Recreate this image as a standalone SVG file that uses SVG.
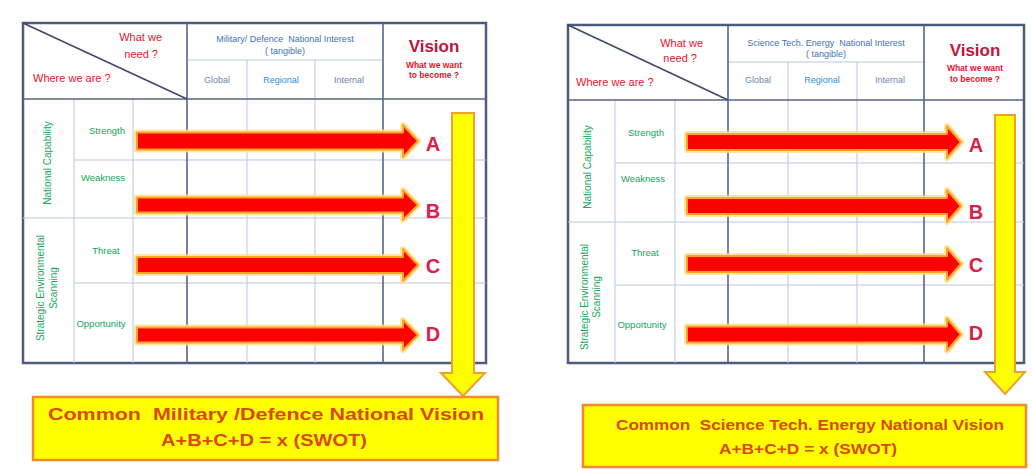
<svg xmlns="http://www.w3.org/2000/svg" width="1032" height="470" viewBox="0 0 1032 470">
<style>
text{font-family:"Liberation Sans",Arial,sans-serif}
.outer{fill:#ffffff;stroke:#4D5B7C;stroke-width:2.5}
.major{stroke:#55658A;stroke-width:1.6;fill:none}
.minor{stroke:#B7C7E2;stroke-width:1;fill:none}
.diag{stroke:#3D4A6A;stroke-width:1.6}
.red{fill:#E8102E;font-size:11px}
.vis{fill:#C0143C;font-size:17px;font-weight:bold}
.vsub{fill:#E8102E;font-size:8.5px;font-weight:bold}
.blue{fill:#3F72B0;font-size:9px}
.sub{fill:#6E86AE;font-size:9px}
.reg{fill:#2F8FD8;font-size:9px}
.grn{fill:#12A85A;font-size:9.5px}
.vgrn{fill:#12A85A;font-size:10px}
.let{fill:#D8204A;font-size:20px;font-weight:bold}
.rglow{fill:none;stroke:#FFE08A;stroke-width:6;stroke-linejoin:round;opacity:0.8}
.rarr{fill:#FF0000;stroke:#FFA526;stroke-width:2;stroke-linejoin:round}
.yarr{fill:#FFFF00;stroke:#F0A030;stroke-width:2;stroke-linejoin:miter}
.box{fill:#FFFF00;stroke:#F08A30;stroke-width:2.5}
.btxt{fill:#D9480F;font-weight:bold;text-anchor:middle}
</style>

<g id="table-left">
<rect class="outer" x="23" y="23" width="463" height="340"/>
<path class="minor" d="M187,60H383 M247,60V363 M315,60V363 M74,99V363 M133,99V363 M74,160H486 M23,218H486 M74,283H486"/>
<path class="major" d="M187,23V363 M383,23V363 M23,99H486"/>
<line class="diag" x1="23" y1="23" x2="187" y2="99"/>
<text class="red" x="162" y="41" text-anchor="end">What we</text>
<text class="red" x="158" y="58" text-anchor="end">need ?</text>
<text class="red" x="33" y="82">Where we are ?</text>
<text class="blue" x="285" y="42" text-anchor="middle" xml:space="preserve">Military/ Defence  National Interest</text>
<text class="blue" x="285" y="54" text-anchor="middle">( tangible)</text>
<text class="sub" x="217" y="83" text-anchor="middle">Global</text>
<text class="reg" x="281" y="83" text-anchor="middle">Regional</text>
<text class="sub" x="349" y="83" text-anchor="middle">Internal</text>
<text class="vis" x="434" y="52" text-anchor="middle">Vision</text>
<text class="vsub" x="434" y="68" text-anchor="middle">What we want</text>
<text class="vsub" x="434" y="78" text-anchor="middle">to become ?</text>
<text class="grn" x="107" y="134" text-anchor="middle">Strength</text>
<text class="grn" x="103" y="181" text-anchor="middle">Weakness</text>
<text class="grn" x="106" y="254" text-anchor="middle">Threat</text>
<text class="grn" x="101" y="327" text-anchor="middle">Opportunity</text>
<text class="vgrn" transform="translate(51,163) rotate(-90)" text-anchor="middle">National Capability</text>
<text class="vgrn" transform="translate(44,288) rotate(-90)" text-anchor="middle">Strategic Environmental</text>
<text class="vgrn" transform="translate(57,288) rotate(-90)" text-anchor="middle">Scanning</text>
<text class="let" x="433" y="151" text-anchor="middle">A</text>
<text class="let" x="433" y="218" text-anchor="middle">B</text>
<text class="let" x="433" y="273" text-anchor="middle">C</text>
<text class="let" x="433" y="341" text-anchor="middle">D</text>
</g>

<g id="table-right">
<rect class="outer" x="568" y="25" width="456" height="338"/>
<path class="minor" d="M728,62H924 M788,62V363 M857,62V363 M615,100V363 M675,100V363 M615,163H1024 M568,222H1024 M615,285H1024"/>
<path class="major" d="M728,25V363 M924,25V363 M568,100H1024"/>
<line class="diag" x1="568" y1="25" x2="728" y2="100"/>
<text class="red" x="703" y="47" text-anchor="end">What we</text>
<text class="red" x="697" y="62" text-anchor="end">need ?</text>
<text class="red" x="576" y="86">Where we are ?</text>
<text class="blue" x="826" y="46" text-anchor="middle" xml:space="preserve">Science Tech. Energy  National Interest</text>
<text class="blue" x="826" y="57" text-anchor="middle">( tangible)</text>
<text class="sub" x="758" y="83" text-anchor="middle">Global</text>
<text class="reg" x="822" y="83" text-anchor="middle">Regional</text>
<text class="sub" x="890" y="83" text-anchor="middle">Internal</text>
<text class="vis" x="975" y="56" text-anchor="middle">Vision</text>
<text class="vsub" x="975" y="71" text-anchor="middle">What we want</text>
<text class="vsub" x="975" y="82" text-anchor="middle">to become ?</text>
<text class="grn" x="646" y="136" text-anchor="middle">Strength</text>
<text class="grn" x="643" y="182" text-anchor="middle">Weakness</text>
<text class="grn" x="645" y="256" text-anchor="middle">Threat</text>
<text class="grn" x="642" y="328" text-anchor="middle">Opportunity</text>
<text class="vgrn" transform="translate(591,167) rotate(-90)" text-anchor="middle">National Capability</text>
<text class="vgrn" transform="translate(588,297) rotate(-90)" text-anchor="middle">Strategic Environmental</text>
<text class="vgrn" transform="translate(600,297) rotate(-90)" text-anchor="middle">Scanning</text>
<text class="let" x="976" y="152" text-anchor="middle">A</text>
<text class="let" x="976" y="219" text-anchor="middle">B</text>
<text class="let" x="976" y="272" text-anchor="middle">C</text>
<text class="let" x="976" y="340" text-anchor="middle">D</text>
</g>

<g id="connectors">
<path class="rglow" d="M137,132.5H403V125L418,141L403,157V149.5H137Z"/>
<path class="rarr" d="M137,132.5H403V125L418,141L403,157V149.5H137Z"/>
<path class="rglow" d="M137,197.5H403V190L418,205L403,220V212.5H137Z"/>
<path class="rarr" d="M137,197.5H403V190L418,205L403,220V212.5H137Z"/>
<path class="rglow" d="M137,257H403V249L418,265L403,281V273H137Z"/>
<path class="rarr" d="M137,257H403V249L418,265L403,281V273H137Z"/>
<path class="rglow" d="M137,327.5H403V320L418,335L403,350V342.5H137Z"/>
<path class="rarr" d="M137,327.5H403V320L418,335L403,350V342.5H137Z"/>

<path class="rglow" d="M687,134H947V126L961,142L947,158V150H687Z"/>
<path class="rarr" d="M687,134H947V126L961,142L947,158V150H687Z"/>
<path class="rglow" d="M687,198H947V190L961,206L947,222V214H687Z"/>
<path class="rarr" d="M687,198H947V190L961,206L947,222V214H687Z"/>
<path class="rglow" d="M687,256H947V248L961,264L947,280V272H687Z"/>
<path class="rarr" d="M687,256H947V248L961,264L947,280V272H687Z"/>
<path class="rglow" d="M687,326.5H947V318.5L961,334.5L947,350.5V342.5H687Z"/>
<path class="rarr" d="M687,326.5H947V318.5L961,334.5L947,350.5V342.5H687Z"/>

<path class="yarr" d="M452,113H474V373H485L463,396L441,373H452Z"/>
<path class="yarr" d="M995,115H1015V372H1025L1005,394L985,372H995Z"/>
</g>

<g id="box-left">
<rect class="box" x="33" y="397" width="465" height="63"/>
<text class="btxt" x="266" y="420" font-size="17" textLength="436" lengthAdjust="spacingAndGlyphs" xml:space="preserve">Common  Military /Defence National Vision</text>
<text class="btxt" x="264" y="446" font-size="17" textLength="206" lengthAdjust="spacingAndGlyphs">A+B+C+D = x (SWOT)</text>
</g>

<g id="box-right">
<rect class="box" x="583" y="405" width="443" height="62"/>
<text class="btxt" x="810" y="430" font-size="15" textLength="388" lengthAdjust="spacingAndGlyphs" xml:space="preserve">Common  Science Tech. Energy National Vision</text>
<text class="btxt" x="808" y="454" font-size="15" textLength="178" lengthAdjust="spacingAndGlyphs">A+B+C+D = x (SWOT)</text>
</g>
</svg>
